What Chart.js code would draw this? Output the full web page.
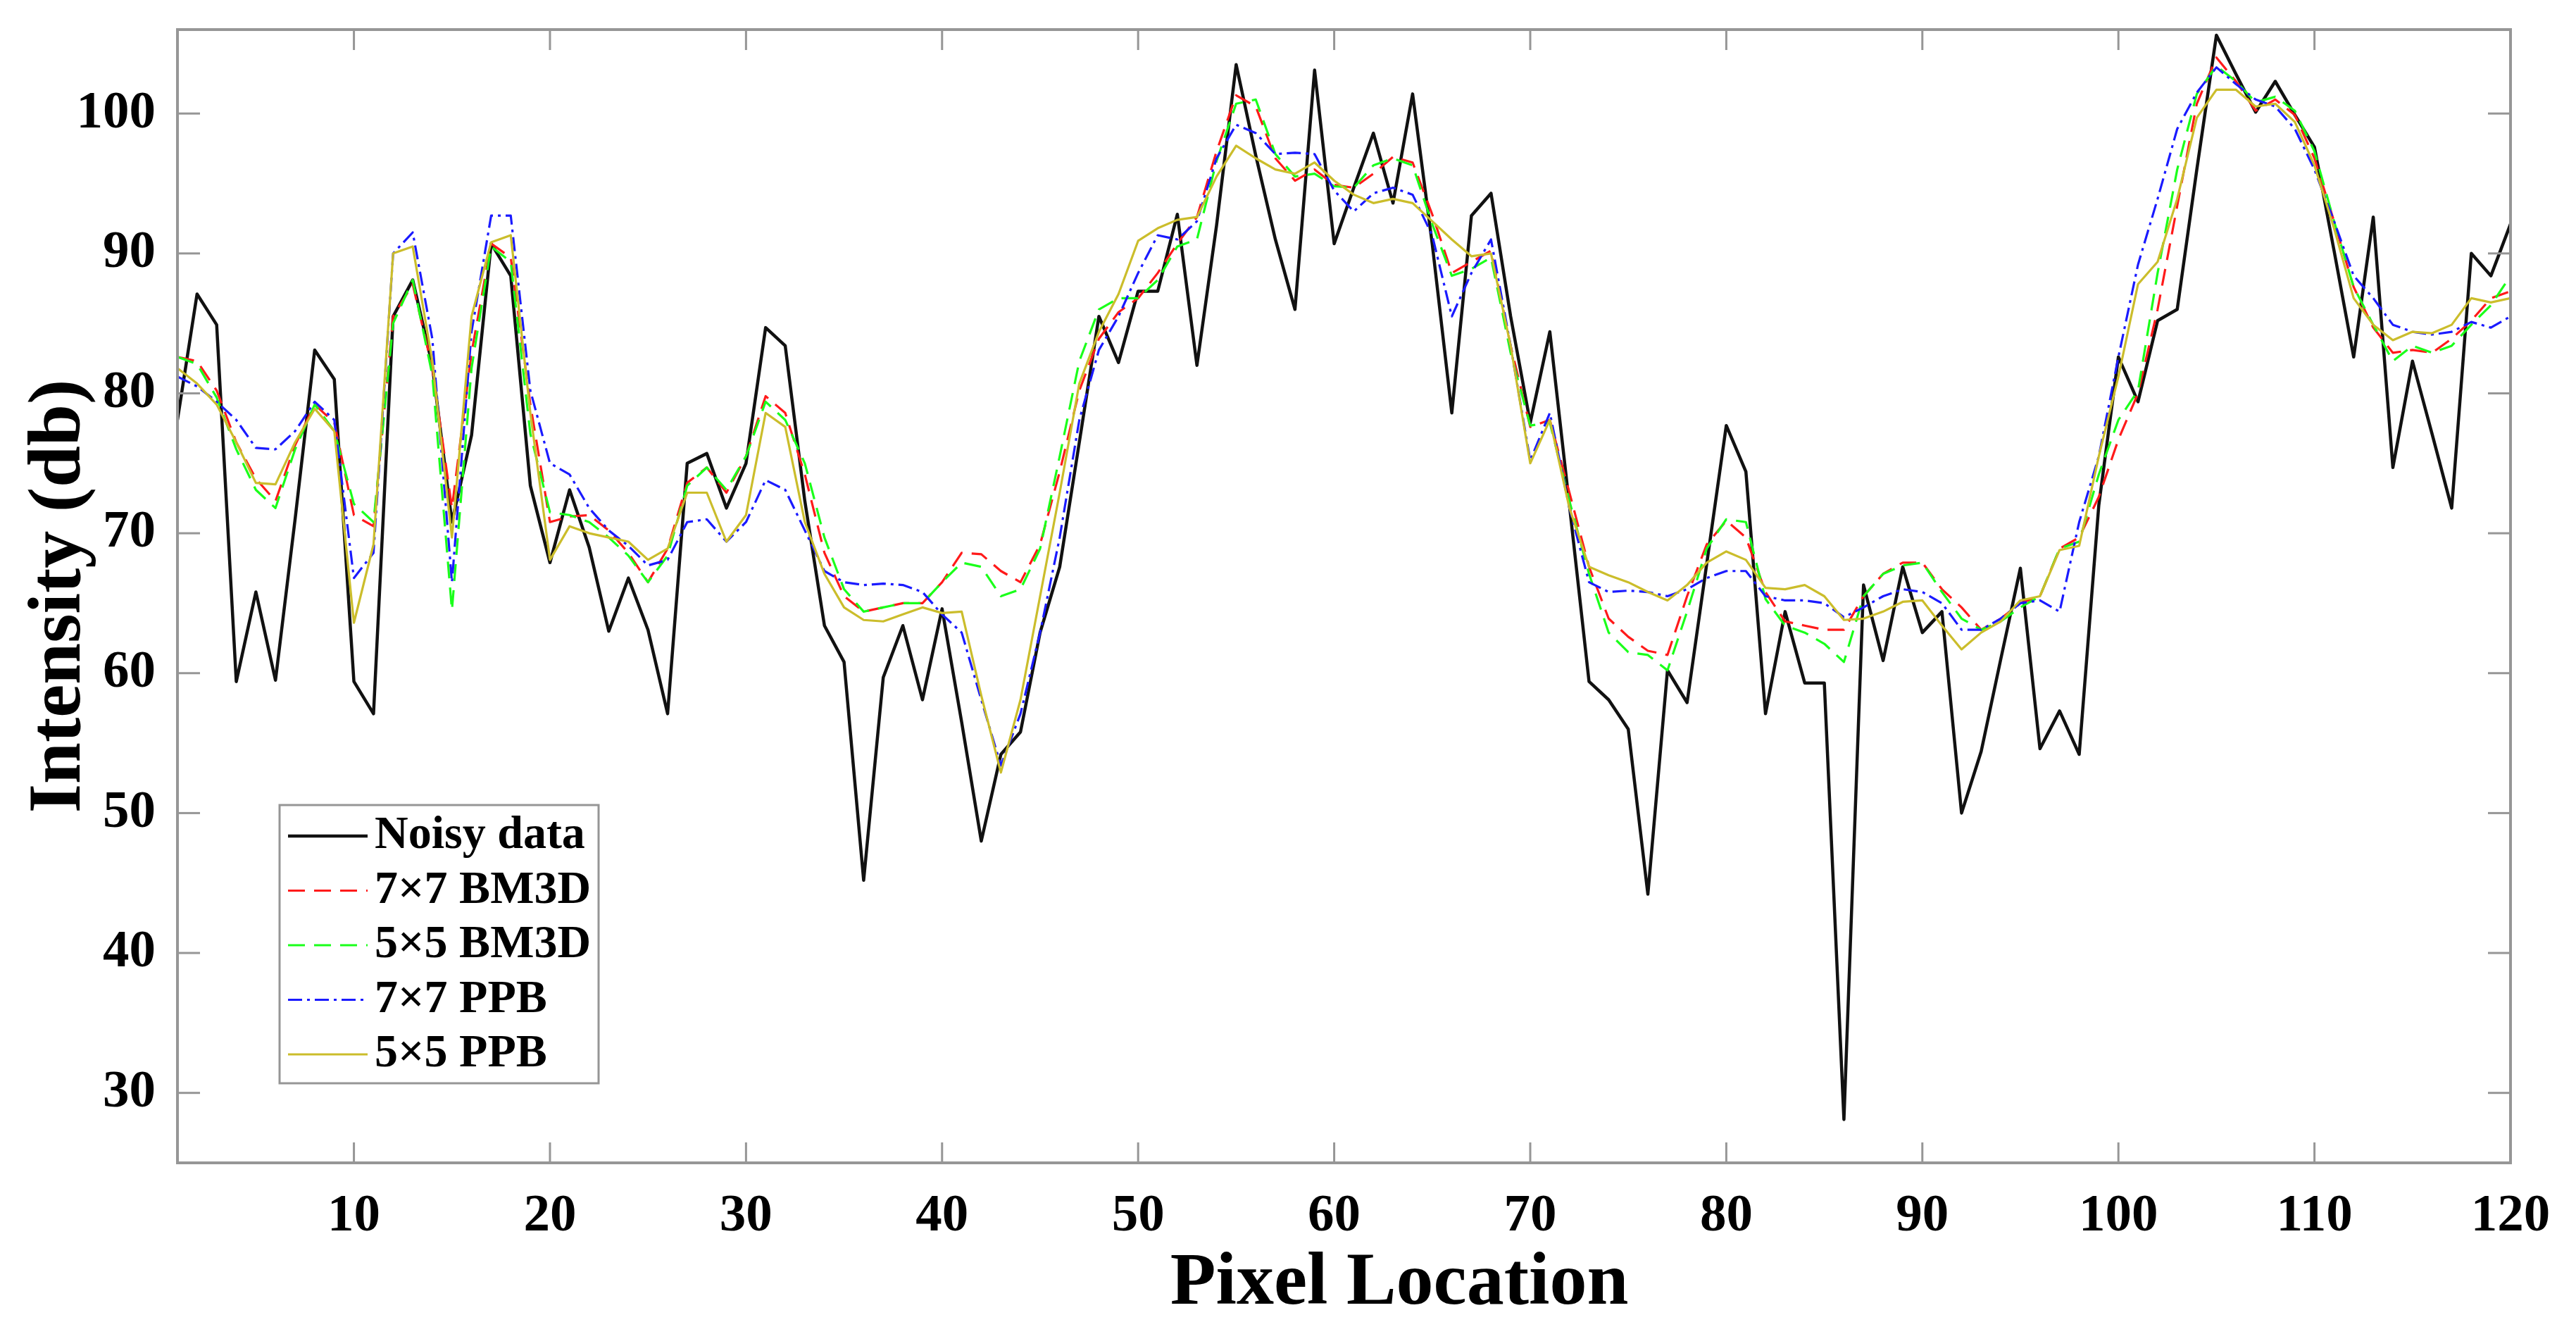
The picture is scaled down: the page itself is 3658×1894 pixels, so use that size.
<!DOCTYPE html>
<html>
<head>
<meta charset="utf-8">
<title>Intensity profile</title>
<script src="https://cdn.jsdelivr.net/npm/chart.js@4.4.1/dist/chart.umd.min.js"></script>
<style>
  html, body { margin: 0; padding: 0; background: #fff; }
  canvas { display: block; }
</style>
</head>
<body>
<canvas id="chart" width="3658" height="1894"></canvas>
<script>
// --- DATA ---
const pixelLocation = Array.from({ length: 120 }, (_, i) => i + 1);
const xTickValues = [10, 20, 30, 40, 50, 60, 70, 80, 90, 100, 110, 120];
const yTickValues = [30, 40, 50, 60, 70, 80, 90, 100];

const noisyData = [
  78.1, 87.1, 84.9, 59.4, 65.8, 59.5, 71.0, 83.1, 81.0, 59.4,
  57.1, 85.5, 88.1, 82.0, 70.8, 77.0, 90.7, 88.4, 73.4, 67.9,
  73.1, 69.0, 63.0, 66.8, 63.1, 57.1, 75.0, 75.7, 71.8, 75.0,
  84.7, 83.4, 72.3, 63.4, 60.8, 45.2, 59.7, 63.4, 58.1, 64.6,
  56.5, 48.0, 54.2, 55.8, 62.9, 67.6, 76.5, 85.5, 82.2, 87.3,
  87.3, 92.8, 82.0, 92.0, 103.5, 97.0, 91.0, 86.0, 103.1, 90.7,
  94.7, 98.6, 93.6, 101.4, 90.7, 78.6, 92.7, 94.3, 85.5, 77.9,
  84.4, 72.0, 59.4, 58.1, 56.0, 44.2, 60.2, 57.9, 67.8, 77.7,
  74.4, 57.1, 64.4, 59.3, 59.3, 28.1, 66.3, 60.9, 67.6, 62.9,
  64.4, 50.0, 54.4, 61.0, 67.5, 54.6, 57.3, 54.2, 72.0, 82.6,
  79.4, 85.2, 86.0, 96.0, 105.6, 102.8, 100.1, 102.3, 99.9, 97.6,
  90.2, 82.6, 92.6, 74.7, 82.3, 77.1, 71.8, 90.0, 88.4, 92.1
];

const bm3d7x7 = [
  82.6, 82.3, 80.2, 76.5, 73.9, 72.3, 76.3, 79.2, 77.9, 71.3,
  70.5, 85.5, 87.8, 81.8, 71.8, 82.9, 90.7, 89.7, 79.2, 70.8,
  71.2, 71.3, 70.2, 68.6, 66.5, 68.9, 73.6, 74.7, 72.9, 75.5,
  79.8, 78.6, 74.2, 68.6, 65.5, 64.4, 64.7, 65.0, 65.0, 66.5,
  68.6, 68.5, 67.3, 66.5, 69.2, 74.4, 80.2, 83.9, 85.8, 86.8,
  88.6, 90.7, 92.6, 97.3, 101.3, 100.5, 96.8, 95.2, 96.0, 94.9,
  94.7, 95.7, 96.9, 96.5, 92.8, 88.6, 89.4, 90.2, 83.4, 77.6,
  78.1, 72.9, 67.6, 63.9, 62.6, 61.6, 61.3, 65.5, 69.2, 70.9,
  69.7, 65.8, 63.7, 63.4, 63.1, 63.1, 65.5, 67.1, 67.9, 67.9,
  66.0, 64.7, 63.1, 63.9, 65.0, 65.5, 68.9, 69.7, 72.6, 76.7,
  80.0, 86.0, 93.4, 100.7, 104.0, 102.3, 100.2, 101.0, 99.9, 96.8,
  92.3, 87.6, 84.7, 82.9, 83.1, 82.9, 83.9, 85.2, 86.8, 87.3
];

const bm3d5x5 = [
  82.6, 82.1, 79.7, 76.0, 73.1, 71.8, 76.0, 79.2, 77.3, 72.1,
  70.8, 85.0, 88.1, 81.3, 64.5, 81.8, 90.5, 89.4, 77.1, 71.5,
  71.3, 70.8, 69.7, 68.4, 66.5, 68.4, 73.4, 74.7, 73.1, 75.5,
  79.4, 78.1, 75.0, 69.7, 66.0, 64.4, 64.7, 65.0, 65.0, 66.5,
  67.9, 67.6, 65.5, 66.0, 68.9, 75.5, 82.3, 86.0, 86.8, 86.8,
  88.1, 90.5, 91.0, 96.6, 100.7, 101.0, 97.1, 95.5, 95.7, 94.8,
  94.7, 96.3, 96.8, 96.3, 92.1, 88.4, 88.9, 89.7, 82.9, 77.7,
  77.9, 72.3, 67.1, 62.9, 61.5, 61.3, 60.2, 64.4, 68.9, 71.0,
  70.8, 65.3, 63.4, 62.9, 62.1, 60.8, 65.5, 67.1, 67.7, 67.9,
  65.8, 63.9, 63.1, 63.7, 64.7, 65.5, 68.9, 69.4, 74.2, 78.1,
  80.2, 88.6, 96.0, 101.4, 103.4, 102.3, 100.8, 101.2, 100.2, 97.3,
  92.3, 87.6, 84.9, 82.3, 83.4, 82.9, 83.4, 84.9, 86.3, 88.4
];

const ppb7x7 = [
  81.2, 80.5, 79.4, 78.1, 76.1, 76.0, 77.3, 79.4, 78.1, 66.8,
  68.6, 90.0, 91.5, 83.9, 66.5, 84.4, 92.7, 92.7, 80.2, 75.0,
  74.2, 71.8, 70.2, 69.1, 67.7, 68.1, 70.8, 71.0, 69.4, 70.8,
  73.8, 73.1, 70.2, 67.3, 66.5, 66.3, 66.4, 66.3, 65.8, 64.2,
  62.9, 58.1, 53.4, 57.1, 62.9, 69.7, 78.1, 83.1, 85.5, 88.6,
  91.3, 91.0, 92.3, 96.8, 99.2, 98.6, 97.1, 97.2, 97.1, 94.5,
  93.0, 94.3, 94.7, 94.2, 91.3, 85.5, 88.6, 91.0, 83.4, 75.2,
  78.6, 71.8, 66.5, 65.8, 65.9, 65.8, 65.5, 66.0, 66.8, 67.3,
  67.3, 65.5, 65.2, 65.2, 65.0, 64.0, 64.7, 65.5, 66.0, 65.8,
  65.0, 63.1, 63.1, 63.9, 65.0, 65.2, 64.4, 70.8, 75.5, 82.6,
  89.2, 93.9, 98.9, 101.5, 103.3, 102.1, 101.0, 100.5, 98.9, 96.0,
  92.3, 88.4, 86.8, 84.9, 84.4, 84.2, 84.4, 85.1, 84.7, 85.5
];

const ppb5x5 = [
  81.8, 80.7, 79.2, 76.5, 73.6, 73.5, 76.5, 78.9, 77.3, 63.6,
  69.2, 90.0, 90.5, 82.3, 69.7, 85.5, 90.8, 91.3, 78.6, 68.1,
  70.5, 70.0, 69.7, 69.4, 68.1, 68.9, 72.9, 72.9, 69.4, 71.3,
  78.6, 77.6, 70.8, 67.1, 64.7, 63.8, 63.7, 64.2, 64.7, 64.3,
  64.4, 58.4, 52.9, 58.1, 65.5, 72.9, 80.7, 84.4, 87.1, 90.9,
  91.8, 92.4, 92.6, 95.5, 97.7, 96.8, 96.0, 95.7, 96.5, 95.2,
  94.2, 93.6, 93.9, 93.6, 92.3, 91.0, 89.8, 90.0, 83.4, 75.0,
  78.1, 71.8, 67.6, 67.0, 66.5, 65.8, 65.2, 66.3, 67.9, 68.7,
  68.1, 66.1, 66.0, 66.3, 65.5, 63.8, 63.9, 64.4, 65.1, 65.2,
  63.4, 61.7, 62.9, 63.7, 65.2, 65.5, 68.8, 69.1, 75.5, 81.2,
  87.8, 89.4, 93.9, 99.7, 101.7, 101.7, 100.5, 100.7, 99.4, 96.3,
  91.8, 86.8, 84.9, 83.8, 84.4, 84.3, 84.9, 86.8, 86.5, 86.8
];

const seriesLabels = ['Noisy data', '7×7 BM3D', '5×5 BM3D', '7×7 PPB', '5×5 PPB'];

// --- STYLE ---
const SERIF = "'Liberation Serif', 'Times New Roman', serif";
const FRAME_COLOR = '#969696';

const seriesStyles = [
  { color: '#111111', width: 4.5, dash: [] },
  { color: '#ff1a1a', width: 3.2, dash: [24, 13] },
  { color: '#1aff1a', width: 3.2, dash: [24, 13] },
  { color: '#1a1aff', width: 3.2, dash: [20, 7, 4, 7] },
  { color: '#cbbd2b', width: 3.2, dash: [] }
];

const seriesValues = [noisyData, bm3d7x7, bm3d5x5, ppb7x7, ppb5x5];

const datasets = seriesValues.map((values, i) => ({
  label: seriesLabels[i],
  data: values.map((v, k) => ({ x: pixelLocation[k], y: v })),
  borderColor: seriesStyles[i].color,
  borderWidth: seriesStyles[i].width,
  borderDash: seriesStyles[i].dash,
  borderJoinStyle: 'round',
  pointRadius: 0,
  tension: 0,
  fill: false,
  order: seriesValues.length - i // last series on top, like the original
}));

// --- PLUGINS ---

// box round the plot area with inward tick marks on all four sides
const frameAndTicks = {
  id: 'frameAndTicks',
  afterDatasetsDraw(chart) {
    const { ctx, chartArea: a, scales: { x, y } } = chart;
    const seg = (x1, y1, x2, y2) => { ctx.beginPath(); ctx.moveTo(x1, y1); ctx.lineTo(x2, y2); ctx.stroke(); };
    ctx.save();
    ctx.strokeStyle = FRAME_COLOR;
    ctx.lineWidth = 3;
    x.ticks.forEach(t => {
      const px = x.getPixelForValue(t.value);
      seg(px, a.bottom, px, a.bottom - 29);
      seg(px, a.top, px, a.top + 29);
    });
    y.ticks.forEach(t => {
      const py = y.getPixelForValue(t.value);
      seg(a.left, py, a.left + 32, py);
      seg(a.right, py, a.right - 32, py);
    });
    ctx.lineWidth = 4;
    ctx.strokeRect(a.left, a.top, a.right - a.left, a.bottom - a.top);
    ctx.restore();
  }
};

// x axis title, sitting a little right of the axis centre as in the original
const xTitle = {
  id: 'xTitle',
  afterDraw(chart) {
    const { ctx, chartArea: a } = chart;
    const t = chart.options.scales.x.title;
    ctx.save();
    ctx.font = `${t.font.weight} ${t.font.size}px ${t.font.family}`;
    ctx.fillStyle = t.color;
    ctx.textAlign = 'center';
    ctx.textBaseline = 'middle';
    ctx.fillText(t.text, a.left + (a.right - a.left) * 0.5237, chart.height - 70);
    ctx.restore();
  }
};

// legend box in the lower left corner of the plot
const boxLegend = {
  id: 'boxLegend',
  afterDraw(chart) {
    const { ctx, chartArea: a } = chart;
    const left = a.left + 145, top = a.bottom - 508, w = 453, h = 395;
    ctx.save();
    ctx.fillStyle = '#fff';
    ctx.fillRect(left, top, w, h);
    ctx.strokeStyle = FRAME_COLOR;
    ctx.lineWidth = 3;
    ctx.strokeRect(left, top, w, h);
    ctx.font = `bold 66px ${SERIF}`;
    ctx.textBaseline = 'middle';
    chart.data.datasets.forEach((ds, i) => {
      const rowY = top + 44 + i * 77.5;
      ctx.beginPath();
      ctx.setLineDash(ds.borderDash);
      ctx.strokeStyle = ds.borderColor;
      ctx.lineWidth = ds.borderWidth;
      ctx.moveTo(left + 12, rowY);
      ctx.lineTo(left + 125, rowY);
      ctx.stroke();
      ctx.setLineDash([]);
      ctx.fillStyle = '#000';
      ctx.fillText(ds.label, left + 135, rowY);
    });
    ctx.restore();
  }
};

// --- CHART ---
document.addEventListener('DOMContentLoaded', () => {
  const tickFont = { family: SERIF, size: 75, weight: 'bold' };
  const titleFont = { family: SERIF, size: 106, weight: 'bold' };

  new Chart(document.getElementById('chart').getContext('2d'), {
    type: 'line',
    data: { datasets },
    options: {
      responsive: false,
      animation: false,
      events: [],
      layout: { padding: { left: 0, right: 93, top: 42, bottom: 0 } },
      plugins: { legend: { display: false }, tooltip: { enabled: false } },
      scales: {
        x: {
          type: 'linear',
          min: 1,
          max: 120,
          afterBuildTicks: scale => { scale.ticks = xTickValues.map(v => ({ value: v })); },
          afterFit: scale => { scale.height = 243; scale.paddingLeft = 0; scale.paddingRight = 0; },
          grid: { display: false },
          border: { display: false },
          ticks: { font: tickFont, color: '#000', padding: 24, maxRotation: 0, autoSkip: false },
          title: { display: false, text: 'Pixel Location', font: titleFont, color: '#000' }
        },
        y: {
          min: 25,
          max: 106,
          afterBuildTicks: scale => { scale.ticks = yTickValues.map(v => ({ value: v })); },
          afterFit: scale => { scale.width = 252; scale.paddingTop = 0; scale.paddingBottom = 0; },
          grid: { display: false },
          border: { display: false },
          ticks: { font: tickFont, color: '#000', padding: 23 },
          title: { display: true, text: 'Intensity (db)', font: titleFont, color: '#000', padding: { top: 22, bottom: 0 } }
        }
      }
    },
    plugins: [frameAndTicks, xTitle, boxLegend]
  });
});
</script>
</body>
</html>
